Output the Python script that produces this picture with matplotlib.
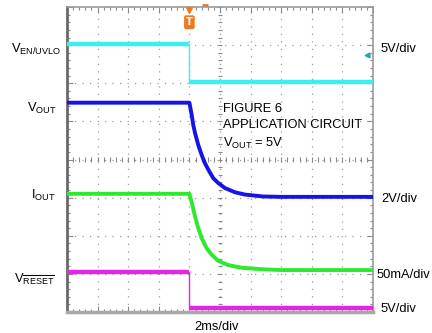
import numpy as np
import matplotlib
matplotlib.use("Agg")
import matplotlib.pyplot as plt

plt.rcParams["font.family"] = ["Liberation Sans Narrow", "Liberation Sans", "DejaVu Sans"]
plt.rcParams["mathtext.default"] = "regular"

# time in ms (2 ms/div, 10 div), levels in screen divisions (8 div)
t_edge = 8.0

en_t = [0, t_edge, t_edge, 20]
en_v = [7.03, 7.03, 6.04, 6.04]

vout_t = [0, 8.0, 8.15, 8.25, 8.37, 8.58, 8.80, 9.02, 9.24, 9.56, 9.89,
          10.33, 10.98, 11.63, 12.81, 14.0, 20]
vout_v = [5.49, 5.49, 5.17, 4.91, 4.69, 4.38, 4.12, 3.90, 3.73, 3.51, 3.38,
          3.25, 3.14, 3.08, 3.03, 3.02, 3.02]

iout_t = [0, 8.0, 8.19, 8.37, 8.58, 8.80, 9.13, 9.46, 9.89, 10.54, 11.42,
          12.81, 14.0, 20]
iout_v = [3.10, 3.10, 2.81, 2.50, 2.20, 1.94, 1.67, 1.50, 1.34, 1.23, 1.16,
          1.12, 1.10, 1.10]

rst_t = [0, t_edge, t_edge, 20]
rst_v = [1.05, 1.05, 0.10, 0.10]

C_EN, C_VOUT, C_IOUT, C_RST = "#3CEFEF", "#1414E6", "#2EEA2E", "#E426E4"

W, H = 432, 333
fig = plt.figure(figsize=(W / 100, H / 100), dpi=100)
ax = fig.add_axes([67 / W, 1 - 312 / H, 306 / W, 305 / H])
ax.set_xlim(0, 20)
ax.set_ylim(0, 8)

# graticule
for x in np.arange(2, 20, 2):
    ax.axvline(x, color="#9a9a9a", lw=0.9, ls=(0, (1, 5)), zorder=1)
for y in np.arange(1, 8, 1):
    ax.axhline(y, color="#9a9a9a", lw=0.9, ls=(0, (1, 5)), zorder=1)
sub_x = np.arange(0, 20.01, 0.4)
sub_y = np.arange(0, 8.01, 0.2)
ax.vlines(sub_x, 4 - 0.07, 4 + 0.07, color="#8a8a8a", lw=0.8, zorder=1)
ax.hlines(sub_y, 10 - 0.14, 10 + 0.14, color="#8a8a8a", lw=0.8, zorder=1)

ax.set_xticks(np.arange(0, 20.01, 2))
ax.set_yticks(np.arange(0, 8.01, 1))
ax.set_xticks(sub_x, minor=True)
ax.set_yticks(sub_y, minor=True)
ax.tick_params(which="both", direction="in", top=True, right=True,
               labelbottom=False, labelleft=False, colors="#8a8a8a")
ax.tick_params(which="major", length=4, width=0.8)
ax.tick_params(which="minor", length=2.5, width=0.8)
for side, sp in ax.spines.items():
    sp.set_color("#9a9a9a")
    sp.set_linewidth(1.2)
ax.spines["left"].set_color("#6a6a6a")
ax.spines["left"].set_linewidth(2)
ax.spines["bottom"].set_linewidth(2.5)
ax.spines["bottom"].set_color("#a8a8a8")

# traces: thin steps, thick (noisy) flat parts
for tt, vv, c in [(en_t, en_v, C_EN), (rst_t, rst_v, C_RST)]:
    ax.plot(tt, vv, color=c, lw=1.0, zorder=3)
    ax.plot(tt[:2], vv[:2], color=c, lw=3.2, zorder=3, solid_capstyle="butt")
    ax.plot(tt[2:], vv[2:], color=c, lw=3.2, zorder=3, solid_capstyle="butt")
ax.plot(vout_t, vout_v, color=C_VOUT, lw=2.8, zorder=3, solid_joinstyle="round")
ax.plot(iout_t, iout_v, color=C_IOUT, lw=2.8, zorder=3, solid_joinstyle="round")

# trigger marker
ax.plot([t_edge], [7.93], marker="v", color="#F07820", ms=5, clip_on=False, zorder=5)
ax.text(t_edge, 7.6, "T", color="white", fontsize=7, fontweight="bold",
        ha="center", va="center", zorder=6, family="DejaVu Sans",
        bbox=dict(boxstyle="round,pad=0.2", fc="#F07820", ec="none"))
ax.plot([9.0], [8.05], marker="_", color="#F07820", ms=4, mew=2, clip_on=False)
# channel offset marker
ax.plot([19.6], [6.73], marker="<", color="#2aa8a8", ms=3.5, clip_on=False, zorder=5)

fs = 9.3
def ftext(x, y, s, **kw):
    fig.text(x / W, 1 - y / H, s, fontsize=fs, va="baseline", **kw)

ftext(61, 53, r"$V_{EN/UVLO}$", ha="right")
ftext(57, 112, r"$V_{OUT}$", ha="right")
ftext(56, 199, r"$I_{OUT}$", ha="right")
ftext(55, 283, r"$V_{\overline{RESET}}$", ha="right")

ftext(381, 52, "5V/div", ha="left")
ftext(381, 202, "2V/div", ha="left")
ftext(377, 278, "50mA/div", ha="left")
ftext(381, 312, "5V/div", ha="left")
ftext(217, 330, "2ms/div", ha="center")

ftext(223, 112, "FIGURE 6", ha="left")
ftext(223, 128, "APPLICATION CIRCUIT", ha="left")
ftext(223, 147, r"$V_{OUT}$ = 5V", ha="left")

fig.savefig("out.png", dpi=100)
